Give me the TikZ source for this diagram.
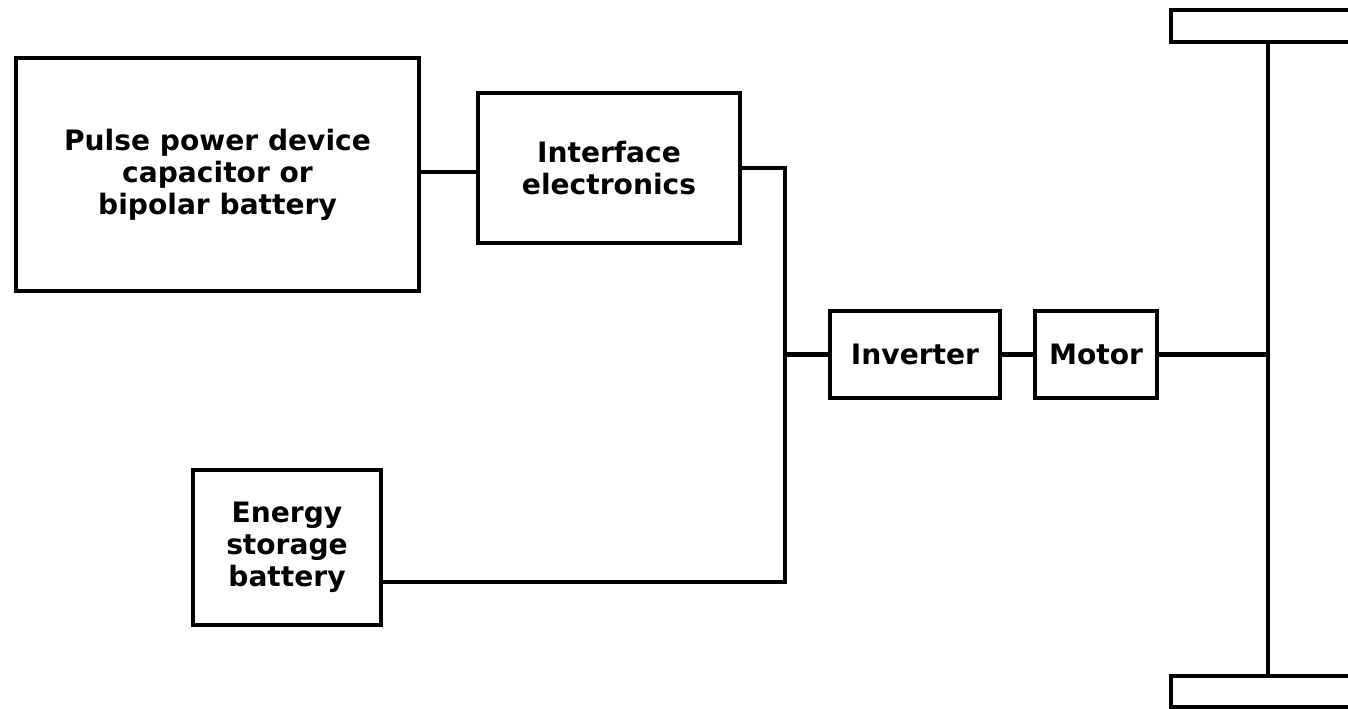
\documentclass[tikz,border=0pt]{standalone}
\usepackage{fontspec}
\setmainfont{DejaVu Sans}
\usepackage{tikz}
\usetikzlibrary{calc, positioning}

\tikzset{
  block/.style = {draw, line width = 2.8pt, align = center,
    font = \bfseries\fontsize{16}{18.2}\selectfont, inner sep = 0pt},
  wire/.style = {line width = 2.8pt}
}

\begin{document}
\begin{tikzpicture}[x = 0.02cm, y = -0.02cm]
  \useasboundingbox (0, 0) rectangle (1348, 709);

  \node[block, minimum width = 403*0.02cm, minimum height = 233*0.02cm]
  (pulse) at (217.5, 174.5) {Pulse power device\\capacitor or\\bipolar battery};
  \node[block, minimum width = 262*0.02cm, minimum height = 150*0.02cm]
  (iface) at (609, 168) {Interface\\electronics};
  \node[block, minimum width = 188*0.02cm, minimum height = 155*0.02cm]
  (storage) at (287, 547.5) {Energy\\storage\\battery};
  \node[block, minimum width = 170*0.02cm, minimum height = 87*0.02cm]
  (inverter) at (915, 354.5) {Inverter};
  \node[block, minimum width = 122*0.02cm, minimum height = 87*0.02cm]
  (motor) at (1096, 354.5) {Motor};

  \coordinate (bus) at (785, 354.5);
  \coordinate (low) at (785, 582);
  \coordinate (axtop) at (1268, 42);
  \coordinate (axbot) at (1268, 676);

  \draw[wire] (pulse.east |- 0, 172) -- (iface.west |- 0, 172);
  \draw[wire] (iface.east) -| (low) -- (low -| storage.east);
  \draw[wire] (bus) -- (inverter.west);
  \draw[wire] (inverter) -- (motor);
  \draw[wire] (motor.east) -- (motor -| axtop);
  \draw[wire] (axtop) -- (axbot);
  % wheels
  \draw[wire] (1171, 10) rectangle (1400, 42);
  \draw[wire] (1171, 676) rectangle (1400, 707);
\end{tikzpicture}
\end{document}
